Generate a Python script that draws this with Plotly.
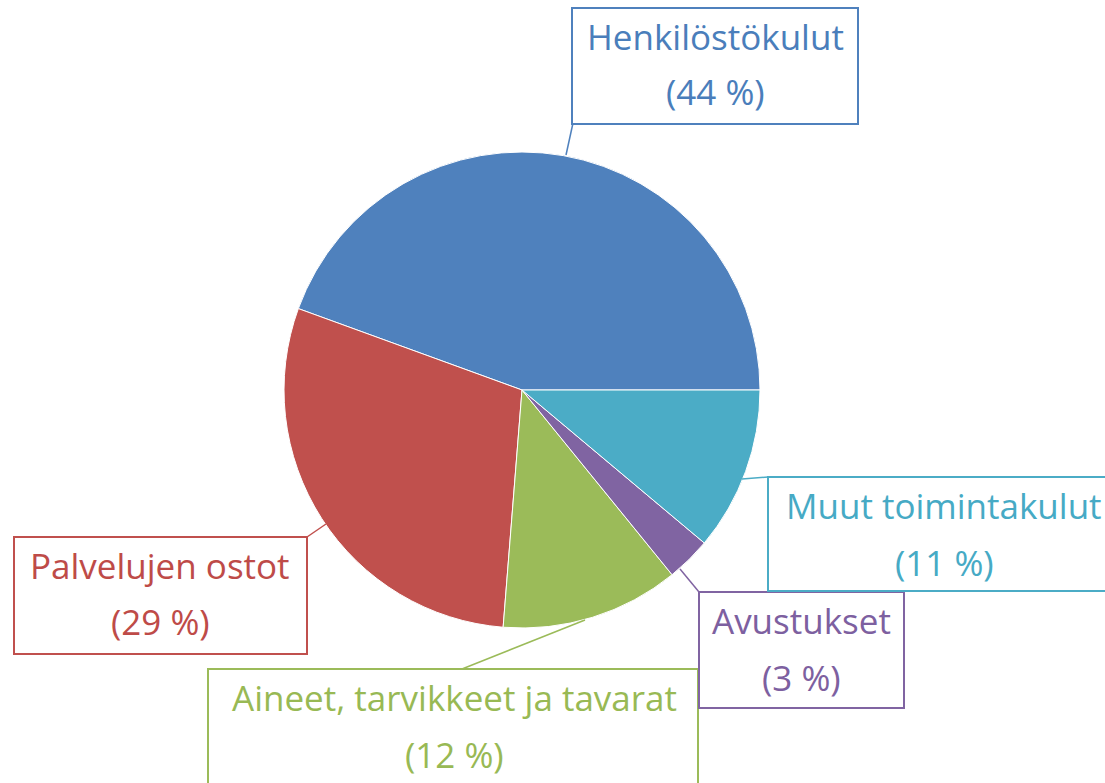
import plotly.graph_objects as go

# ---- data ----
labels = ["Henkilöstökulut", "Palvelujen ostot", "Aineet, tarvikkeet ja tavarat", "Avustukset", "Muut toimintakulut"]
values = [44, 29, 12, 3, 11]
colors = ["#4F81BD", "#C0504D", "#9BBB59", "#8064A2", "#4BACC6"]
text_colors = ["#4A7EBB", "#BE4B48", "#98B954", "#7D60A0", "#46AAC5"]

W, H = 1105, 783

def px(x):
    return x / W

def py(y):
    return 1 - y / H

# pie geometry (pixels)
cx, cy, r = 522, 390, 238
# first slice starts at 3 o'clock and runs counterclockwise
first_share = values[0] / sum(values)
rot = 90 - 360 * first_share

fig = go.Figure(go.Pie(
    labels=labels, values=values, sort=False, direction="counterclockwise",
    rotation=rot, marker=dict(colors=colors, line=dict(color="white", width=1)),
    textinfo="none", hoverinfo="label+percent", showlegend=False,
    domain=dict(x=[px(cx - r), px(cx + r)], y=[py(cy + r), py(cy - r)]),
))

# label layout (pixels): box x0, y0, x1, y1, text center x, line1 y, line2 y, leader line
layout_boxes = [
    (572, 8, 858, 124, 715, 37, 92, (566, 155, 573, 123)),
    (14, 537, 307, 654, 160, 565, 621, (326, 524, 307, 537)),
    (208, 669, 698, 800, 454, 697, 754, (585, 620, 462, 669)),
    (699, 592, 904, 708, 801, 620, 677, (680, 569, 699, 592)),
    (768, 477, 1122, 591, 944, 505, 562, (742, 479, 768, 477)),
]

FONT = "Open Sans"
FSIZE = 35

shapes = []
annotations = []
for lab, val, col, tcol, (x0, y0, x1, y1, tx, l1, l2, ln) in zip(labels, values, colors, text_colors, layout_boxes):
    shapes.append(dict(type="line", xref="paper", yref="paper",
                       x0=px(ln[0]), y0=py(ln[1]), x1=px(ln[2]), y1=py(ln[3]),
                       line=dict(color=col, width=1.5)))
    shapes.append(dict(type="rect", xref="paper", yref="paper",
                       x0=px(x0), y0=py(y0), x1=px(x1), y1=py(y1),
                       line=dict(color=col, width=2), fillcolor="white"))
    annotations.append(dict(text=lab, x=px(tx), y=py(l1), xref="paper", yref="paper",
                            xanchor="center", yanchor="middle", showarrow=False,
                            font=dict(family=FONT, size=FSIZE, color=tcol)))
    annotations.append(dict(text=f"({val} %)", x=px(tx), y=py(l2), xref="paper", yref="paper",
                            xanchor="center", yanchor="middle", showarrow=False,
                            font=dict(family=FONT, size=FSIZE, color=tcol)))

fig.update_layout(
    width=W, height=H, margin=dict(l=0, r=0, t=0, b=0),
    paper_bgcolor="white", plot_bgcolor="white",
    shapes=shapes, annotations=annotations,
)

fig.write_html("out.html", config={"displayModeBar": False},
               post_script="document.body.style.margin='0';document.body.style.overflow='hidden';")
